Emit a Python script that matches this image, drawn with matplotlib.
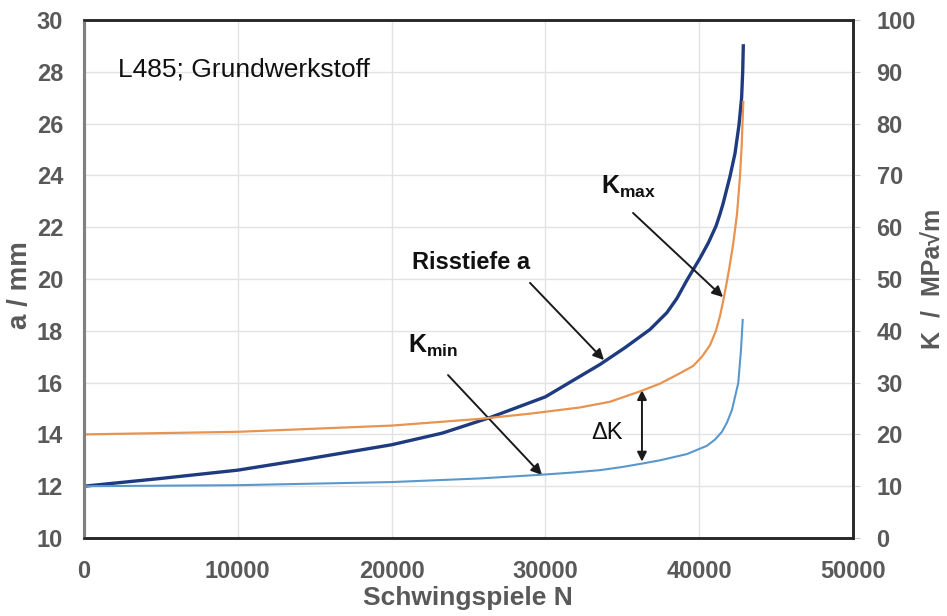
import matplotlib
matplotlib.use('Agg')
import matplotlib.pyplot as plt

plt.rcParams['font.family'] = ['Liberation Sans', 'DejaVu Sans']
plt.rcParams['mathtext.fontset'] = 'custom'
plt.rcParams['mathtext.rm'] = 'Liberation Sans'
plt.rcParams['mathtext.bf'] = 'Liberation Sans:bold'
plt.rcParams['mathtext.it'] = 'Liberation Sans:italic'

# Risstiefe a (linke Achse, mm)
n_a = [0, 5000, 10000, 14000, 20000, 23300, 26400, 30000, 33550, 35180,
       36800, 37900, 38550, 39200, 40050, 40600, 41100, 41350, 41550, 42000,
       42330, 42590, 42760, 42830, 42870]
a_mm = [12.0, 12.3, 12.62, 13.0, 13.6, 14.05, 14.65, 15.45, 16.7, 17.35,
        18.05, 18.7, 19.25, 19.95, 20.8, 21.4, 22.05, 22.5, 22.9, 23.95,
        24.85, 25.95, 27.0, 28.0, 29.0]

# Kmax (rechte Achse)
n_kmax = [0, 10000, 20000, 25750, 29000, 32250, 34200, 36150, 37450, 38750,
          39600, 40180, 40700, 41090, 41350, 41550, 41740, 41940, 42200,
          42460, 42650, 42760, 42870]
k_max = [20.0, 20.5, 21.7, 23.0, 24.0, 25.2, 26.3, 28.3, 29.8, 31.8,
         33.2, 35.0, 37.2, 40.0, 42.8, 45.6, 48.5, 51.8, 56.5,
         62.5, 69.7, 75.5, 84.2]

# Kmin (rechte Achse)
n_kmin = [0, 10000, 20000, 25750, 29650, 31600, 33550, 34980, 36350, 37450,
          39200, 40500, 41030, 41480, 41810, 42130, 42540, 42720, 42830]
k_min = [10.0, 10.2, 10.8, 11.5, 12.2, 12.6, 13.1, 13.7, 14.4, 15.0,
         16.2, 17.8, 19.0, 20.5, 22.3, 24.7, 29.9, 36.3, 42.1]

x_ticks = [0, 10000, 20000, 30000, 40000, 50000]
a_ticks = list(range(10, 31, 2))
k_ticks = list(range(0, 101, 10))

grey = '#595959'

fig = plt.figure(figsize=(9.47, 6.16), dpi=100)
ax = fig.add_axes([0.0887, 0.1266, 0.812, 0.841])
ax2 = ax.twinx()

ax.plot(n_a, a_mm, color='#1f3b80', lw=2.4, zorder=3,
        solid_joinstyle='round')
ax2.plot(n_kmax, k_max, color='#e8934f', lw=1.6, solid_joinstyle='round')
ax2.plot(n_kmin, k_min, color='#5a98cc', lw=1.5, solid_joinstyle='round')

ax.set_xlim(0, 50000)
ax.set_ylim(10, 30)
ax2.set_ylim(0, 100)
ax.set_xticks(x_ticks)
ax.set_yticks(a_ticks)
ax2.set_yticks(k_ticks)

ax.grid(True, color='#e2e2e2', lw=1)
ax.set_axisbelow(True)

for a_ in (ax, ax2):
    for s in ('top', 'bottom', 'right'):
        a_.spines[s].set_color('#262626')
        a_.spines[s].set_linewidth(1.8)
    a_.spines['left'].set_color('#808080')
    a_.spines['left'].set_linewidth(2.2)

ax.tick_params(axis='both', length=0, labelsize=17, labelcolor=grey)
ax.tick_params(axis='y', pad=15)
ax.tick_params(axis='x', pad=16)
ax2.tick_params(axis='y', length=5, color='#c8c8c8', labelsize=17,
                labelcolor=grey, pad=12)
for lbl in ax.get_xticklabels() + ax.get_yticklabels() + ax2.get_yticklabels():
    lbl.set_fontweight('bold')

# Achsentitel
fig.text(0.494, 0.029, 'Schwingspiele N', fontsize=19, fontweight='bold',
         color=grey, ha='center', va='center')
fig.text(0.021, 0.537, 'a / mm', fontsize=20, fontweight='bold',
         color=grey, ha='center', va='center', rotation=90)
fig.text(0.986, 0.547, 'K  /  MPa√m', fontsize=18, fontweight='bold',
         color=grey, ha='center', va='center', rotation=90)

# Beschriftungen
ax.text(2200, 28.07, 'L485; Grundwerkstoff', fontsize=19, color='#111111',
        va='center', ha='left')
ax.text(21300, 20.62, 'Risstiefe a', fontsize=17, fontweight='bold',
        color='#111111', va='center', ha='left')
ax.text(21050, 17.15, r'$\mathbf{K_{min}}$', fontsize=18, color='#111111',
        va='baseline', ha='left')
ax.text(33600, 23.3, r'$\mathbf{K_{max}}$', fontsize=18, color='#111111',
        va='baseline', ha='left')
ax.text(33000, 14.05, 'ΔK', fontsize=17, color='#111111',
        va='center', ha='left')

arrow = dict(arrowstyle='-|>', color='#1a1a1a', lw=1.4, mutation_scale=16,
             shrinkA=0, shrinkB=0)
ax.annotate('', xy=(33810, 16.87), xytext=(29000, 19.85), arrowprops=arrow)
ax.annotate('', xy=(29780, 12.43), xytext=(23670, 16.29), arrowprops=arrow)
ax.annotate('', xy=(41550, 19.3), xytext=(35700, 22.55), arrowprops=arrow)
ax.annotate('', xy=(36280, 12.95), xytext=(36280, 15.71),
            arrowprops=dict(arrowstyle='<|-|>', color='#1a1a1a', lw=1.4,
                            mutation_scale=14, shrinkA=0, shrinkB=0))

fig.savefig('out.png', dpi=100)
